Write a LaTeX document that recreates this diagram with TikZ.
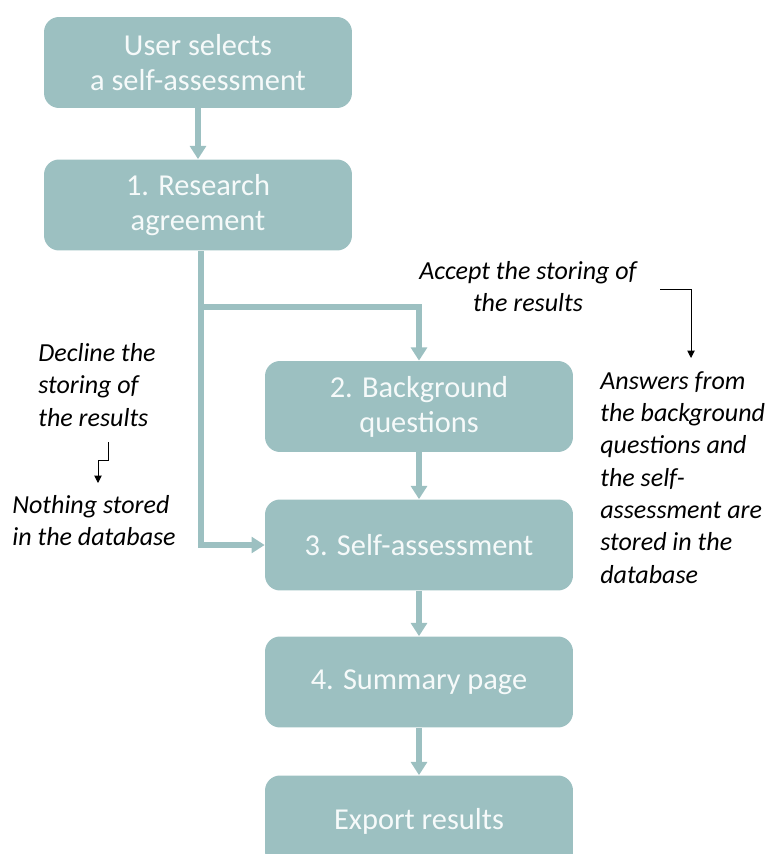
\documentclass[tikz,border=0pt]{standalone}
\usepackage{fontspec}
\setmainfont{Carlito}
\usetikzlibrary{arrows.meta}
\definecolor{boxteal}{RGB}{156,192,193}
\definecolor{boxtext}{RGB}{246,250,250}
\tikzset{
	stepnode/.style={fill=boxteal, rounded corners=0.3cm, minimum width=6.16cm, minimum height=1.82cm, text=boxtext, align=center, inner sep=0pt, font=\fontsize{17.3}{20}\selectfont},
	flow/.style={boxteal, line width=3.4pt, -{Triangle[width=9pt,length=7.5pt]}},
	note/.style={inner sep=0pt, font=\fontsize{14.8}{18.4}\selectfont\itshape},
	hint/.style={black, line width=0.55pt, -{Triangle[width=4.2pt,length=4.2pt]}}
}

\begin{document}
\begin{tikzpicture}[x=0.02cm, y=-0.02cm]
		\useasboundingbox (0,0) rectangle (772,854);
		% steps
		\node (user) [stepnode] at (198,62.5) {User selects\\a self-assessment};
		\node (agree) [stepnode] at (198,205) {1. Research\\agreement};
		\node (backq) [stepnode] at (419,406.5) {2. Background\\questions};
		\node (selfa) [stepnode] at (419,545) {3. Self-assessment};
		\node (summ) [stepnode] at (419,682) {4. Summary page};
		\node (export) [stepnode] at (419,821) {Export results};
		%
		\coordinate (fork) at (201,307);
		\draw[flow] (user) -- (agree);
		\draw[flow] (agree.south -| fork) |- (selfa.west);
		\draw[flow] (fork) -| (backq.north);
		\draw[flow] (backq) -- (selfa);
		\draw[flow] (selfa) -- (summ);
		\draw[flow] (summ) -- (export);
		% notes
		\node (decline) [note, anchor = north west, align = left] at (38,343) {Decline the\\storing of\\the results};
		\node (nothing) [note, anchor = north west, align = left] at (12,495) {Nothing stored\\in the database};
		\node (accept) [note, anchor = north, align = center] at (528,261) {Accept the storing of\\the results};
		\node (answers) [note, anchor = north west, align = left] at (600,371) {Answers from\\the background\\questions and\\the self-\\assessment are\\stored in the\\database};
		%
		\coordinate (dtop) at (108,442);
		\coordinate (dend) at (98,483);
		\draw[hint] (dtop) -- ++(0,18) -| (dend);
		\coordinate (astart) at (660,289);
		\coordinate (aend) at (691,358);
		\draw[hint] (astart) -| (aend);
	\end{tikzpicture}
\end{document}
